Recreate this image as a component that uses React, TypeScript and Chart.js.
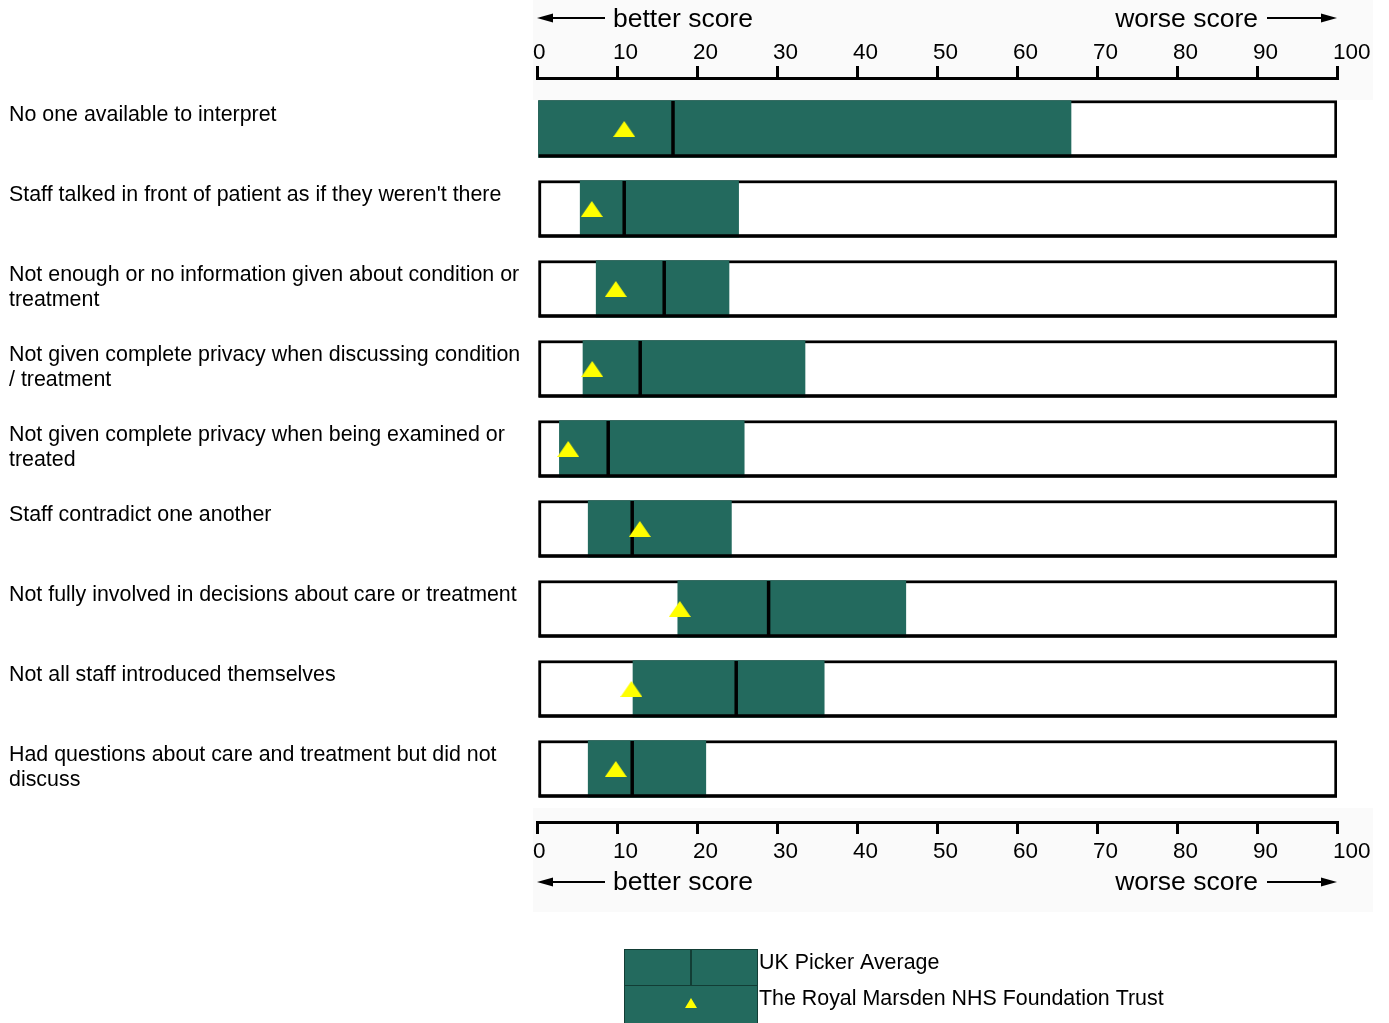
import React, { useEffect, useRef } from 'react';
import { Chart, registerables } from 'chart.js';

Chart.register(...registerables);

// ---------- data ----------
const questions: string[][] = [
  ['No one available to interpret'],
  ["Staff talked in front of patient as if they weren't there"],
  ['Not enough or no information given about condition or', 'treatment'],
  ['Not given complete privacy when discussing condition', '/ treatment'],
  ['Not given complete privacy when being examined or', 'treated'],
  ['Staff contradict one another'],
  ['Not fully involved in decisions about care or treatment'],
  ['Not all staff introduced themselves'],
  ['Had questions about care and treatment but did not', 'discuss'],
];
const rangeLow = [0, 5.4, 7.4, 5.75, 2.8, 6.4, 17.6, 12.0, 6.4];
const rangeHigh = [66.75, 25.2, 24.0, 33.5, 25.9, 24.3, 46.1, 35.9, 21.1];
const ukAverage = [17.0, 10.9, 15.9, 12.9, 8.9, 11.9, 28.95, 24.9, 11.9];
const trustScore = [10.9, 6.85, 9.85, 6.9, 3.9, 12.85, 17.85, 11.8, 9.85];
const axisMin = 0;
const axisMax = 100;
const axisStep = 10;
const betterLabel = 'better score';
const worseLabel = 'worse score';
const legendLabels = ['UK Picker Average', 'The Royal Marsden NHS Foundation Trust'];

// ---------- styles ----------
const GREEN = '#236A5E';
const YELLOW = '#FFFF00';
const FONT = '"Liberation Sans", Arial, sans-serif';

function makeTriangle(w: number, h: number, color: string) {
  const c = document.createElement('canvas');
  c.width = w;
  c.height = h;
  const g = c.getContext('2d')!;
  g.fillStyle = color;
  g.beginPath();
  g.moveTo(w / 2, 0);
  g.lineTo(w, h);
  g.lineTo(0, h);
  g.closePath();
  g.fill();
  return c;
}

function arrow(ctx: CanvasRenderingContext2D, x1: number, x2: number, y: number, headAtStart: boolean) {
  ctx.save();
  ctx.strokeStyle = '#000';
  ctx.fillStyle = '#000';
  ctx.lineWidth = 2;
  const head = 16;
  const hh = 4.5;
  ctx.beginPath();
  if (headAtStart) {
    ctx.moveTo(x1 + head - 2, y);
    ctx.lineTo(x2, y);
  } else {
    ctx.moveTo(x1, y);
    ctx.lineTo(x2 - head + 2, y);
  }
  ctx.stroke();
  ctx.beginPath();
  if (headAtStart) {
    ctx.moveTo(x1, y);
    ctx.lineTo(x1 + head, y - hh);
    ctx.lineTo(x1 + head, y + hh);
  } else {
    ctx.moveTo(x2, y);
    ctx.lineTo(x2 - head, y - hh);
    ctx.lineTo(x2 - head, y + hh);
  }
  ctx.closePath();
  ctx.fill();
  ctx.restore();
}

const decorPlugin = {
  id: 'decor',
  beforeDraw(chart: any) {
    const { ctx, chartArea } = chart;
    ctx.save();
    ctx.fillStyle = '#fafafa';
    ctx.fillRect(chartArea.left - 4, 0, chartArea.right - chartArea.left + 40, chartArea.top + 22);
    ctx.fillRect(chartArea.left - 4, chartArea.bottom - 14, chartArea.right - chartArea.left + 40, 104);
    ctx.restore();
  },
  afterDraw(chart: any) {
    const { ctx, chartArea } = chart;
    const yScale = chart.scales.y;
    const L = chartArea.left;
    const R = chartArea.right;
    ctx.save();
    // row labels
    ctx.fillStyle = '#000';
    ctx.font = `21.4px ${FONT}`;
    ctx.textAlign = 'left';
    ctx.textBaseline = 'alphabetic';
    questions.forEach((lines, i) => {
      const yc = yScale.getPixelForValue(i);
      lines.forEach((line, k) => {
        ctx.fillText(line, 9, yc - 8 + k * 25);
      });
    });
    // axis direction titles
    ctx.font = `26.5px ${FONT}`;
    const drawTitles = (baseline: number, arrowY: number) => {
      ctx.textAlign = 'left';
      ctx.fillText(betterLabel, L + 76, baseline);
      ctx.textAlign = 'right';
      ctx.fillText(worseLabel, R - 79, baseline);
      arrow(ctx, L, L + 68, arrowY, true);
      arrow(ctx, R - 70, R, arrowY, false);
    };
    drawTitles(27, 18);
    drawTitles(chartArea.bottom + 68, chartArea.bottom + 60);

    // legend
    const lx = L + 87;
    const lw = 134;
    const ly = chartArea.bottom + 127;
    const lh = 74;
    const mid = ly + 36;
    ctx.fillStyle = GREEN;
    ctx.fillRect(lx, ly, lw, lh);
    ctx.strokeStyle = '#123d35';
    ctx.lineWidth = 1;
    ctx.strokeRect(lx + 0.5, ly + 0.5, lw - 1, lh);
    ctx.beginPath();
    ctx.moveTo(lx, mid + 0.5);
    ctx.lineTo(lx + lw, mid + 0.5);
    ctx.stroke();
    ctx.lineWidth = 2;
    ctx.beginPath();
    ctx.moveTo(lx + 67, ly);
    ctx.lineTo(lx + 67, mid);
    ctx.stroke();
    ctx.fillStyle = YELLOW;
    ctx.beginPath();
    ctx.moveTo(lx + 67, mid + 13);
    ctx.lineTo(lx + 73, mid + 23);
    ctx.lineTo(lx + 61, mid + 23);
    ctx.closePath();
    ctx.fill();
    ctx.fillStyle = '#000';
    ctx.font = `21.4px ${FONT}`;
    ctx.textAlign = 'left';
    ctx.fillText(legendLabels[0], lx + lw + 1, ly + 20);
    ctx.fillText(legendLabels[1], lx + lw + 1, ly + 56);
    ctx.restore();
  },
};

const axisCommon = (position: 'top' | 'bottom', height: number, pad: number) => ({
  type: 'linear' as const,
  position,
  min: axisMin,
  max: axisMax,
  offset: false,
  afterFit: (s: any) => {
    s.height = height;
  },
  grid: {
    drawOnChartArea: false,
    drawTicks: true,
    tickLength: 12,
    tickWidth: 3,
    lineWidth: 3,
    color: '#000',
    tickColor: '#000',
    offset: false,
  },
  border: { display: true, color: '#000', width: 3 },
  ticks: {
    stepSize: axisStep,
    autoSkip: false,
    maxRotation: 0,
    align: 'start' as const,
    labelOffset: -4,
    padding: pad,
    color: '#000',
    font: { size: 22.5, family: FONT },
  },
});

export default function App() {
  const ref = useRef<HTMLCanvasElement | null>(null);
  useEffect(() => {
    if (!ref.current) return;
    const tri = makeTriangle(22, 16, YELLOW);
    const rows = questions.map((_, i) => i);
    const chart = new Chart(ref.current, {
      type: 'bar',
      data: {
        datasets: [
          {
            type: 'line',
            label: 'trust',
            data: rows.map((i) => ({ x: trustScore[i], y: i })),
            showLine: false,
            pointStyle: tri as any,
            pointRadius: 11,
            order: 0,
          } as any,
          {
            type: 'line',
            label: 'average',
            data: rows.map((i) => ({ x: ukAverage[i], y: i })),
            showLine: false,
            pointStyle: 'line',
            pointRotation: 90,
            pointRadius: 28,
            pointBorderColor: '#000',
            pointBorderWidth: 3.5,
            borderColor: '#000',
            order: 1,
          } as any,
          {
            type: 'bar',
            label: 'boxBottom',
            data: rows.map((i) => ({ x: [axisMin, axisMax], y: i })),
            backgroundColor: 'rgba(0,0,0,0)',
            borderColor: '#000',
            borderWidth: { top: 0, left: 0, right: 0, bottom: 3 },
            borderSkipped: false,
            barThickness: 57,
            stack: 'row',
            order: 2,
          } as any,
          {
            type: 'bar',
            label: 'range',
            data: rows.map((i) => ({ x: [rangeLow[i], rangeHigh[i]], y: i })),
            backgroundColor: GREEN,
            borderWidth: 0,
            barThickness: 57,
            stack: 'row',
            order: 3,
          } as any,
          {
            type: 'bar',
            label: 'box',
            data: rows.map((i) => ({ x: [axisMin, axisMax], y: i })),
            backgroundColor: '#ffffff',
            borderColor: '#000',
            borderWidth: 3,
            borderSkipped: false,
            barThickness: 57,
            stack: 'row',
            order: 4,
          } as any,
        ],
      },
      options: {
        indexAxis: 'y',
        animation: false,
        responsive: false,
        devicePixelRatio: 1,
        layout: { padding: { left: 537, right: 52, top: 0, bottom: 0 } },
        plugins: { legend: { display: false }, tooltip: { enabled: false } },
        scales: {
          x: { ...axisCommon('top', 78, 0), stacked: false } as any,
          x2: axisCommon('bottom', 201, 4) as any,
          y: {
            type: 'linear',
            reverse: true,
            min: -0.6375,
            max: 8.6625,
            offset: false,
            display: false,
            ticks: { stepSize: 1, includeBounds: false },
          },
        },
      },
      plugins: [decorPlugin],
    });
    return () => chart.destroy();
  }, []);
  return (
    <div style={{ position: 'absolute', left: 0, top: 0, width: 1389, height: 1023, background: '#fff' }}>
      <canvas ref={ref} width={1389} height={1023} style={{ display: 'block' }} />
    </div>
  );
}
